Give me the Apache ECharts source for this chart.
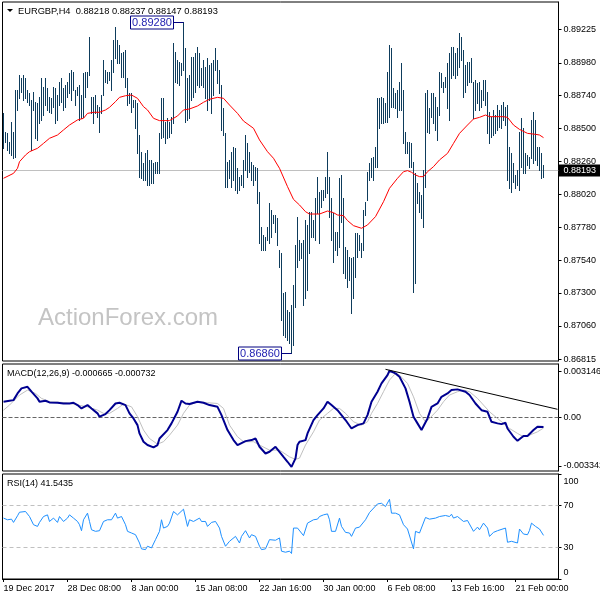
<!DOCTYPE html>
<html><head><meta charset="utf-8">
<script src="https://cdn.jsdelivr.net/npm/echarts@6/dist/echarts.min.js"></script>
<style>html,body{margin:0;padding:0;background:#fff}#c{width:600px;height:600px}</style>
</head><body><div id="c"></div>
<script>
const symbolName = 'EURGBP,H4';
const lastBar = ['0.88218', '0.88237', '0.88147', '0.88193'];
const lastClose = 0.88193;
const highs = [
0.88611,0.88477,0.88465,0.88404,0.88550,0.88477,0.88782,0.88782,0.88891,0.88867,
0.88891,0.88867,0.88782,0.88757,0.88709,0.88770,0.88697,0.88684,0.88733,0.88867,
0.88806,0.88867,0.88794,0.88733,0.88721,0.88806,0.88794,0.88745,0.88843,0.88867,
0.88794,0.88818,0.88843,0.88904,0.88928,0.88916,0.88782,0.88806,0.88818,0.88745,
0.88904,0.88916,0.88916,0.89171,0.88733,0.88733,0.88745,0.88672,0.88660,0.88745,
0.89001,0.88928,0.88916,0.88916,0.89001,0.89147,0.89244,0.89147,0.89110,0.89050,
0.89062,0.89074,0.88867,0.88757,0.88757,0.88709,0.88709,0.88684,0.88453,0.88331,
0.88246,0.88319,0.88344,0.88271,0.88271,0.88246,0.88258,0.88258,0.88465,0.88721,
0.88721,0.88550,0.88575,0.88550,0.88587,0.89123,0.89062,0.89001,0.88989,0.88977,
0.89280,0.89086,0.88867,0.88891,0.89025,0.89025,0.89050,0.89098,0.89050,0.88940,
0.89001,0.88952,0.89013,0.88964,0.88977,0.89001,0.89086,0.89001,0.88928,0.88818,
0.88648,0.88465,0.88258,0.88271,0.88331,0.88368,0.88356,0.88210,0.88149,0.88161,
0.88271,0.88453,0.88392,0.88331,0.88258,0.88234,0.88222,0.88210,0.88039,0.87784,
0.87723,0.87711,0.87784,0.87954,0.87905,0.87869,0.87869,0.87845,0.87613,0.87589,
0.87297,0.87309,0.87175,0.87163,0.87212,0.87358,0.87650,0.87857,0.87686,0.87662,
0.87686,0.87832,0.87796,0.87893,0.87893,0.87832,0.87991,0.88149,0.88039,0.88051,
0.88051,0.88149,0.88331,0.88149,0.87991,0.87881,0.87747,0.87747,0.88137,0.88161,
0.87991,0.87638,0.87613,0.87565,0.87552,0.87565,0.87735,0.87735,0.87723,0.87662,
0.87905,0.87966,0.88185,0.88246,0.88283,0.88295,0.88368,0.88721,0.88721,0.88733,
0.88721,0.88684,0.88916,0.89110,0.89086,0.88794,0.88757,0.88782,0.88843,0.88977,
0.88782,0.88477,0.88404,0.88404,0.88392,0.88258,0.88173,0.88100,0.88039,0.88015,
0.88198,0.88757,0.88782,0.88648,0.88757,0.88757,0.88733,0.88660,0.88916,0.88904,
0.88843,0.88879,0.88977,0.89050,0.89098,0.89098,0.89050,0.89086,0.89196,0.89171,
0.89074,0.88964,0.88989,0.88989,0.89013,0.88843,0.88855,0.88830,0.88843,0.88782,
0.88855,0.88855,0.88770,0.88624,0.88587,0.88636,0.88599,0.88672,0.88636,0.88672,
0.88697,0.88660,0.88672,0.88368,0.88319,0.88246,0.88161,0.88198,0.88477,0.88575,
0.88502,0.88319,0.88307,0.88295,0.88563,0.88624,0.88563,0.88368,0.88368,0.88319,
0.88237];
const lows = [
0.88356,0.88404,0.88344,0.88319,0.88307,0.88283,0.88295,0.88636,0.88721,0.88770,
0.88709,0.88721,0.88697,0.88672,0.88344,0.88636,0.88429,0.88417,0.88538,0.88563,
0.88599,0.88672,0.88636,0.88624,0.88611,0.88660,0.88538,0.88563,0.88672,0.88697,
0.88636,0.88660,0.88733,0.88757,0.88709,0.88782,0.88672,0.88745,0.88563,0.88575,
0.88587,0.88733,0.88806,0.88891,0.88611,0.88538,0.88611,0.88587,0.88477,0.88611,
0.88745,0.88843,0.88830,0.88855,0.88782,0.88916,0.89013,0.88977,0.88977,0.88879,
0.88879,0.88806,0.88672,0.88684,0.88624,0.88660,0.88502,0.88319,0.88149,0.88137,
0.88125,0.88125,0.88088,0.88088,0.88100,0.88100,0.88173,0.88173,0.88173,0.88429,
0.88441,0.88392,0.88429,0.88441,0.88465,0.88538,0.88843,0.88830,0.88818,0.88891,
0.88928,0.88550,0.88563,0.88575,0.88709,0.88733,0.88770,0.88818,0.88806,0.88818,
0.88806,0.88721,0.88636,0.88709,0.88611,0.88745,0.88928,0.88830,0.88757,0.88490,
0.88453,0.88076,0.88076,0.88137,0.88076,0.88125,0.88051,0.88027,0.88051,0.88088,
0.88076,0.88198,0.88149,0.88185,0.88125,0.88088,0.88125,0.87954,0.87662,0.87613,
0.87613,0.87613,0.87686,0.87662,0.87711,0.87808,0.87747,0.87650,0.87492,0.87102,
0.86993,0.86980,0.86956,0.86932,0.86860,0.86920,0.87200,0.87492,0.87540,0.87552,
0.87212,0.87260,0.87321,0.87589,0.87711,0.87711,0.87686,0.87881,0.87662,0.87930,
0.87978,0.88003,0.88027,0.87857,0.87686,0.87528,0.87613,0.87577,0.87638,0.87820,
0.87443,0.87406,0.87345,0.87394,0.87151,0.87260,0.87419,0.87565,0.87613,0.87565,
0.87613,0.87869,0.87978,0.88125,0.88149,0.88125,0.88222,0.88222,0.88502,0.88538,
0.88538,0.88550,0.88550,0.88587,0.88660,0.88660,0.88648,0.88587,0.88636,0.88636,
0.88392,0.88319,0.88319,0.88222,0.88222,0.87309,0.87370,0.87954,0.87893,0.87845,
0.87784,0.88076,0.88477,0.88465,0.88587,0.88538,0.88490,0.88417,0.88599,0.88806,
0.88770,0.88806,0.88648,0.88563,0.88867,0.88891,0.88867,0.88891,0.88952,0.89001,
0.88733,0.88770,0.88818,0.88843,0.88843,0.88575,0.88636,0.88684,0.88636,0.88660,
0.88709,0.88672,0.88465,0.88392,0.88441,0.88453,0.88465,0.88490,0.88514,0.88502,
0.88563,0.88526,0.88125,0.88064,0.88039,0.88112,0.88064,0.88088,0.88051,0.88222,
0.88173,0.88173,0.88234,0.88210,0.88283,0.88246,0.88271,0.88234,0.88198,0.88137,
0.88147];
const maIdx = [0,5,7,8,11,13,17,20,23,27,30,33,37,40,42,45,48,51,53,56,58,61,64,67,70,72,75,78,83,87,90,93,97,100,103,107,108,110,113,117,120,125,128,132,135,137,138,142,145,148,151,153,158,162,165,167,170,172,175,179,182,186,190,193,197,200,202,204,206,208,210,212,215,218,222,225,228,232,235,238,241,243,250,252,255,258,262,266,268,270];
const maVal = [0.88137,0.88173,0.88210,0.88258,0.88307,0.88331,0.88356,0.88392,0.88429,0.88453,0.88490,0.88526,0.88563,0.88575,0.88611,0.88619,0.88619,0.88636,0.88655,0.88697,0.88728,0.88740,0.88745,0.88721,0.88660,0.88636,0.88575,0.88558,0.88558,0.88592,0.88636,0.88643,0.88665,0.88692,0.88714,0.88728,0.88733,0.88721,0.88672,0.88611,0.88555,0.88502,0.88417,0.88331,0.88283,0.88234,0.88210,0.88076,0.87983,0.87942,0.87893,0.87876,0.87876,0.87898,0.87886,0.87869,0.87864,0.87828,0.87791,0.87772,0.87796,0.87857,0.87966,0.88064,0.88137,0.88185,0.88193,0.88181,0.88161,0.88149,0.88149,0.88185,0.88222,0.88271,0.88319,0.88392,0.88465,0.88526,0.88570,0.88582,0.88599,0.88587,0.88587,0.88582,0.88526,0.88494,0.88465,0.88458,0.88453,0.88434];
const macdIdx = [0,3,5,7,9,12,14,17,18,21,23,27,30,33,35,37,39,42,43,44,47,48,51,53,56,58,61,63,65,67,68,70,72,75,77,78,82,84,87,89,91,93,97,100,103,107,109,112,115,117,121,124,126,128,131,133,136,137,140,142,144,146,147,148,151,152,155,157,160,162,164,167,168,171,174,177,180,182,184,187,189,192,193,196,198,201,203,205,207,209,212,214,217,219,222,224,227,228,231,233,236,239,242,244,247,249,251,252,255,257,260,262,265,267,270];
const macdVal = [0.00108,0.00115,0.00119,0.00165,0.00200,0.00211,0.00177,0.00131,0.00108,0.00115,0.00103,0.00101,0.00096,0.00096,0.00101,0.00085,0.00062,0.00085,0.00089,0.00062,0.00028,0.00005,0.00023,0.00050,0.00096,0.00101,0.00085,0.00028,-0.00007,-0.00053,-0.00110,-0.00167,-0.00190,-0.00206,-0.00190,-0.00145,-0.00087,-0.00041,0.00039,0.00115,0.00096,0.00092,0.00108,0.00101,0.00085,0.00073,0.00016,-0.00087,-0.00156,-0.00190,-0.00163,-0.00156,-0.00145,-0.00202,-0.00248,-0.00236,-0.00202,-0.00213,-0.00271,-0.00305,-0.00340,-0.00282,-0.00190,-0.00167,-0.00156,-0.00110,-0.00018,0.00016,0.00062,0.00108,0.00085,0.00050,0.00062,-0.00018,-0.00076,-0.00053,-0.00041,0.00016,0.00108,0.00177,0.00234,0.00291,0.00321,0.00303,0.00280,0.00200,0.00108,0.00005,-0.00041,-0.00087,-0.00007,0.00073,0.00096,0.00142,0.00165,0.00188,0.00193,0.00206,0.00177,0.00154,0.00096,0.00050,0.00039,-0.00030,-0.00041,-0.00046,-0.00037,-0.00076,-0.00133,-0.00161,-0.00128,-0.00128,-0.00087,-0.00064,-0.000665];
const sigIdx = [0,3,8,12,16,19,23,32,37,42,47,50,53,57,60,64,67,70,73,77,80,83,87,90,93,97,102,107,110,113,117,120,125,128,133,138,143,146,148,151,155,158,162,165,168,171,175,179,182,184,187,190,193,196,198,202,205,208,211,213,217,220,223,227,230,233,237,240,243,247,250,253,257,260,263,267,270];
const sigVal = [0.00050,0.00085,0.00154,0.00188,0.00165,0.00131,0.00108,0.00101,0.00085,0.00073,0.00050,0.00028,0.00028,0.00062,0.00092,0.00073,0.00005,-0.00087,-0.00145,-0.00184,-0.00167,-0.00122,-0.00053,0.00028,0.00085,0.00108,0.00101,0.00096,0.00062,-0.00053,-0.00133,-0.00167,-0.00167,-0.00190,-0.00225,-0.00225,-0.00271,-0.00289,-0.00280,-0.00190,-0.00099,-0.00018,0.00028,0.00062,0.00062,0.00028,-0.00030,-0.00053,-0.00030,0.00028,0.00096,0.00177,0.00257,0.00303,0.00291,0.00234,0.00142,0.00028,-0.00030,-0.00007,0.00050,0.00108,0.00154,0.00177,0.00188,0.00177,0.00131,0.00085,0.00039,-0.00007,-0.00041,-0.00076,-0.00110,-0.00133,-0.00122,-0.00099,-0.000732];
const rsiIdx = [0,2,4,5,7,8,11,13,15,17,18,20,22,23,25,27,28,30,32,33,35,37,38,39,40,42,43,44,46,48,50,52,54,56,57,59,61,62,64,66,68,69,71,72,74,76,78,79,80,82,83,85,87,88,90,92,93,95,98,99,101,102,104,106,108,109,111,113,114,116,118,119,121,123,124,126,128,129,131,133,134,136,138,139,141,143,144,145,147,148,150,152,153,155,157,158,160,162,163,164,166,167,168,169,171,173,174,176,178,179,181,183,184,187,189,191,193,194,196,198,200,202,203,205,206,208,209,211,213,214,216,218,219,221,223,224,225,227,228,230,232,233,235,237,238,240,242,243,245,247,248,251,252,254,257,258,260,262,263,264,266,268,270];
const rsiVal = [58.0,56.4,57.0,53.9,60.2,63.6,64.3,59.5,51.7,50.1,53.9,59.5,61.1,54.8,58.0,53.9,59.5,54.8,58.0,61.1,58.0,54.8,51.7,46.0,56.4,62.7,54.8,46.9,45.4,46.0,54.8,56.4,56.4,62.7,58.0,59.5,51.7,45.4,43.8,42.2,34.3,28.7,28.0,31.2,29.6,37.5,45.4,56.4,48.5,50.1,53.2,64.3,61.1,62.7,66.5,50.1,56.4,54.8,58.0,54.8,54.8,50.1,53.9,54.8,48.5,40.6,31.2,35.9,37.5,40.6,34.3,40.6,46.0,39.1,42.2,40.6,31.2,28.0,28.7,37.5,37.5,36.9,39.1,26.5,25.5,26.5,24.3,48.5,48.5,50.1,41.3,53.2,53.2,56.4,57.0,59.5,61.1,62.0,56.4,45.4,45.4,46.9,58.0,50.1,44.4,43.8,40.6,48.5,49.4,50.1,56.4,63.3,64.3,71.5,72.1,69.0,75.9,62.7,62.7,61.1,51.7,47.6,46.3,28.7,45.4,43.8,43.1,58.6,57.0,55.7,58.0,59.5,59.5,60.5,59.5,61.7,58.0,59.5,58.0,54.8,55.7,55.7,45.4,49.4,46.9,53.2,48.5,40.6,44.4,46.0,46.9,48.5,35.0,35.9,34.3,47.6,42.8,42.2,46.3,53.2,50.1,47.6,41.5435];
const dateLabels = ['19 Dec 2017','28 Dec 08:00','8 Jan 00:00','15 Jan 08:00','22 Jan 16:00','30 Jan 00:00','6 Feb 08:00','13 Feb 16:00','21 Feb 00:00'];
const priceTicks = [0.89225,0.88980,0.88740,0.88500,0.88260,0.88020,0.87780,0.87540,0.87300,0.87060,0.86815];
const macdTicks = [0.003146, 0, -0.003342];
const rsiTicks = [0, 30, 70, 100];
const rsiLevels = [30, 70];
const extremes = [[90, 0.89280], [144, 0.86860]];
const macdTrend = [[191, 0.00331], [277, 0.00056]];
const macdLast = ['-0.000665', '-0.000732'];
const rsiLast = '41.5435';

const SLOTS = 278;
const slots = Array.from({length: SLOTS}, (_, i) => i);
const FONT = "'Liberation Sans', Arial, sans-serif";
const L = 2.5, W = 556;

const chart = echarts.init(document.getElementById('c'), null, {renderer: 'canvas'});
function xAx(g, showLabels) {
  return {
    type: 'category', gridIndex: g, data: slots, boundaryGap: true,
    axisLine: {show: showLabels, lineStyle: {color: '#000', width: 1}},
    axisTick: {show: showLabels, interval: 31, alignWithLabel: true, length: 3, lineStyle: {color: '#000'}},
    axisLabel: {show: showLabels, interval: 31, align: 'left', margin: 5, fontSize: 9, color: '#000', fontFamily: FONT,
      formatter: (v, i) => (i % 32 === 0 ? (dateLabels[i / 32] || '') : '')},
    splitLine: {show: false}
  };
}
const yBase = {type: 'value', position: 'right', splitLine: {show: false},
  axisLine: {show: true, lineStyle: {color: '#000'}}};
const lbl = {fontSize: 9, color: '#000', fontFamily: FONT, margin: 5};

const option = {
  animation: false,
  backgroundColor: '#fff',
  grid: [
    {left: L, top: 2, width: W, height: 359, show: true, borderColor: '#000', borderWidth: 1, backgroundColor: 'transparent', outerBoundsMode: 'none'},
    {left: L, top: 364, width: W, height: 107, show: true, borderColor: '#000', borderWidth: 1, backgroundColor: 'transparent', outerBoundsMode: 'none'},
    {left: L, top: 474, width: W, height: 105, show: true, borderColor: '#000', borderWidth: 1, backgroundColor: 'transparent', outerBoundsMode: 'none'}
  ],
  xAxis: [xAx(0, false), xAx(1, false), xAx(2, true)],
  yAxis: [
    Object.assign({}, yBase, {gridIndex: 0, min: 0.868026, max: 0.894244,
      axisTick: {show: true, customValues: priceTicks, length: 3, lineStyle: {color: '#000'}},
      axisLabel: Object.assign({}, lbl, {customValues: priceTicks, formatter: v => v.toFixed(5)})}),
    Object.assign({}, yBase, {gridIndex: 1, min: -0.003686, max: 0.003676,
      axisTick: {show: true, customValues: macdTicks, length: 3, lineStyle: {color: '#000'}},
      axisLabel: Object.assign({}, lbl, {customValues: macdTicks, formatter: v => (v === 0 ? '0.00' : v.toFixed(6))})}),
    Object.assign({}, yBase, {gridIndex: 2, min: 0, max: 100,
      axisTick: {show: true, customValues: rsiTicks, length: 3, lineStyle: {color: '#000'}},
      axisLabel: Object.assign({}, lbl, {customValues: rsiTicks,
        formatter: v => (v === 100 ? '{t|100}' : v === 0 ? '{b|0}' : String(v)),
        rich: {t: {padding: [15, 0, 0, 0], fontSize: 9, color: '#000', fontFamily: FONT},
               b: {padding: [0, 0, 12, 0], fontSize: 9, color: '#000', fontFamily: FONT}}})})
  ],
  series: [
    {type: 'line', name: 'close', xAxisIndex: 0, yAxisIndex: 0, z: 1, silent: true,
      data: [[highs.length - 1, lastClose]], symbol: 'none', lineStyle: {opacity: 0},
      markLine: {silent: true, z: 1, precision: 5, symbol: ['none', 'none'], animation: false,
        lineStyle: {color: '#c0c0c0', type: 'solid', width: 1},
        label: {show: true, position: 'end', distance: 0, formatter: lastBar[3], backgroundColor: '#000', color: '#fff',
          fontSize: 9, fontFamily: FONT, padding: [2, 5, 1, 5]},
        data: [{yAxis: lastClose}]}},
    {type: 'custom', name: 'bars', xAxisIndex: 0, yAxisIndex: 0, z: 3, silent: true,
      data: highs.map((h, i) => [i, lows[i], h]),
      encode: {x: 0, y: [1, 2]},
      renderItem: (params, api) => {
        const i = api.value(0);
        const lo = api.coord([i, api.value(1)]);
        const hi = api.coord([i, api.value(2)]);
        const x = Math.floor(lo[0]) + 0.5;
        return {type: 'line', shape: {x1: x, y1: Math.round(hi[1]), x2: x, y2: Math.round(lo[1]) + 1},
          style: {stroke: '#0e3c5c', lineWidth: 1}};
      }},
    {type: 'line', name: 'MA', xAxisIndex: 0, yAxisIndex: 0, z: 4, silent: true,
      data: maIdx.map((x, k) => [x, maVal[k]]), symbol: 'none', showSymbol: false,
      lineStyle: {color: '#ff0000', width: 1}},
    {type: 'custom', name: 'extremes', xAxisIndex: 0, yAxisIndex: 0, z: 6, silent: true,
      data: extremes, encode: {x: 0, y: 1},
      renderItem: (params, api) => {
        const p = api.coord([api.value(0), api.value(1)]);
        const right = Math.floor(p[0]) - 9.5;
        const y = Math.round(p[1]) + 0.5;
        const bw = 43, bh = 13;
        return {type: 'group', children: [
          {type: 'line', shape: {x1: right, y1: y, x2: Math.floor(p[0]) + 0.5, y2: y}, style: {stroke: '#000080', lineWidth: 1}},
          {type: 'rect', shape: {x: right - bw, y: y - 6.5, width: bw, height: bh}, style: {fill: '#fff', stroke: '#000080', lineWidth: 1}},
          {type: 'text', style: {x: right - bw / 2, y: y + 0.5, text: api.value(1).toFixed(5), align: 'center', verticalAlign: 'middle',
            fill: '#1c1cb0', font: '11px ' + FONT}}
        ]};
      }},
    {type: 'line', name: 'Signal', xAxisIndex: 1, yAxisIndex: 1, z: 3, silent: true,
      data: sigIdx.map((x, k) => [x, sigVal[k]]), symbol: 'none', lineStyle: {color: '#c0c0c0', width: 1},
      markLine: {silent: true, z: 1, precision: 6, symbol: ['none', 'none'], label: {show: false},
        lineStyle: {color: '#666', type: [4, 2], width: 1}, data: [{yAxis: 0}]}},
    {type: 'line', name: 'MACD', xAxisIndex: 1, yAxisIndex: 1, z: 4, silent: true,
      data: macdIdx.map((x, k) => [x, macdVal[k]]), symbol: 'none', lineStyle: {color: '#000090', width: 2},
      markLine: {silent: true, z: 5, precision: 6, symbol: ['none', 'none'], label: {show: false},
        lineStyle: {color: '#000', type: 'solid', width: 1},
        data: [[{coord: macdTrend[0]}, {coord: macdTrend[1]}]]}},
    {type: 'line', name: 'RSI', xAxisIndex: 2, yAxisIndex: 2, z: 4, silent: true,
      data: rsiIdx.map((x, k) => [x, rsiVal[k]]), symbol: 'none', lineStyle: {color: '#1e90ff', width: 1},
      markLine: {silent: true, z: 1, precision: 2, symbol: ['none', 'none'], label: {show: false},
        lineStyle: {color: '#c0c0c0', type: [4, 3], width: 1}, data: rsiLevels.map(v => ({yAxis: v}))}}
  ],
  graphic: [
    {type: 'polygon', shape: {points: [[7, 9], [13, 9], [10, 12]]}, style: {fill: '#000'}, z: 10},
    {type: 'text', x: 18, y: 11, z: 10, style: {text: symbolName + '  ' + lastBar.join(' '), font: '9.3px ' + FONT, fill: '#000', verticalAlign: 'middle'}},
    {type: 'text', x: 38, y: 318, z: 0, style: {text: 'ActionForex.com', font: '24px ' + FONT, fill: '#c4c4c4', verticalAlign: 'middle'}},
    {type: 'text', x: 7, y: 374, z: 10, style: {text: 'MACD(12,26,9) ' + macdLast.join(' '), font: '9px ' + FONT, fill: '#000', verticalAlign: 'middle'}},
    {type: 'text', x: 7, y: 484, z: 10, style: {text: 'RSI(14) ' + rsiLast, font: '9px ' + FONT, fill: '#000', verticalAlign: 'middle'}},
    {type: 'rect', x: 560, y: 362.5, z: 100, shape: {width: 40, height: 4}, style: {fill: '#fff'}}
  ]
};
chart.setOption(option);
</script></body></html>
